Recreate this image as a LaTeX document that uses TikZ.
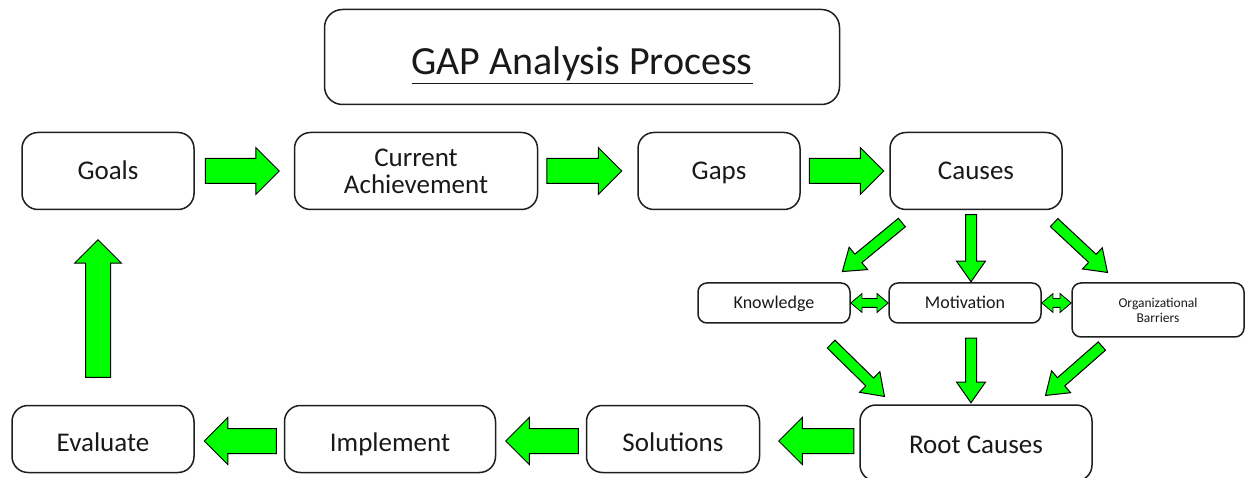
\documentclass[tikz,border=0pt]{standalone}
\usepackage{fontspec}
\setmainfont{Carlito}
\usetikzlibrary{calc,positioning,shapes.arrows}
\definecolor{arrowgreen}{RGB}{0,255,0}
\definecolor{boxline}{RGB}{30,30,30}

\tikzset{
  stepbox/.style={draw=boxline, line width=1.5pt, rounded corners=16pt, align=center,
    inner sep=0pt, text=black!90, font=\fontsize{27}{27}\selectfont},
  oneline/.style={text height=#1, text depth=0pt},
  smallbox/.style={stepbox, rounded corners=9pt, font=\fontsize{18}{20}\selectfont},
  bigarrow/.style={single arrow, draw=black, line width=1pt, fill=arrowgreen, inner xsep=0pt,
    inner ysep=12pt, single arrow head extend=11pt, single arrow tip angle=90},
  smallarrow/.style={bigarrow, inner ysep=5pt, single arrow head extend=9pt,
    single arrow tip angle=70},
  twoarrow/.style={double arrow, draw=black, line width=0.8pt, fill=arrowgreen, inner xsep=0pt,
    inner ysep=4pt, double arrow head extend=5pt, double arrow tip angle=80}
}

% block arrow from one point (tail) to another (tip)
\newcommand{\flowarrow}[3][bigarrow]{%
  \path let \p1=#2, \p2=#3, \n1={atan2(\y2-\y1,\x2-\x1)}, \n2={veclen(\x2-\x1,\y2-\y1)} in
    node[#1, minimum height=\n2, rotate=\n1, anchor=tail] at (\p1) {};}
% two-headed block arrow between two points
\newcommand{\pairarrow}[2]{%
  \path let \p1=#1, \p2=#2, \n1={atan2(\y2-\y1,\x2-\x1)}, \n2={veclen(\x2-\x1,\y2-\y1)} in
    node[twoarrow, minimum height=\n2, rotate=\n1] at ($(\p1)!0.5!(\p2)$) {};}

\begin{document}
\begin{tikzpicture}[x=1pt,y=-1pt]
  \useasboundingbox (0,0) rectangle (1248,478);

  % Drawing title
  \node[stepbox, rounded corners=18pt, minimum width=515pt, minimum height=95pt,
    font=\fontsize{40}{44}\selectfont, oneline=36pt] (title) at (582,57)
    {\underline{GAP Analysis Process}};

  % Drawing top row
  \node[stepbox, oneline=17pt, minimum width=172pt, minimum height=77pt] (goals) at (108,171) {Goals};
  \node[stepbox, minimum width=243pt, minimum height=77pt] (current) at (416,171) {Current\\Achievement};
  \node[stepbox, oneline=17pt, minimum width=162pt, minimum height=77pt] (gaps) at (719,171) {Gaps};
  \node[stepbox, oneline=17pt, minimum width=172pt, minimum height=77pt] (causes) at (976,171) {Causes};

  % Drawing middle row
  \node[smallbox, oneline=12pt, minimum width=152pt, minimum height=40pt] (knowledge) at (774,303) {Knowledge};
  \node[smallbox, oneline=12pt, minimum width=152pt, minimum height=40pt] (motivation) at (965,303) {Motivation};
  \node[smallbox, minimum width=172pt, minimum height=54pt,
    font=\fontsize{13.5}{15}\selectfont] (barriers) at (1158,310) {Organizational\\Barriers};

  % Drawing bottom row
  \node[stepbox, oneline=21pt, minimum width=232pt, minimum height=76pt] (root) at (976,443) {Root Causes};
  \node[stepbox, oneline=25pt, minimum width=173pt, minimum height=67pt] (solutions) at (673,439) {Solutions};
  \node[stepbox, oneline=25pt, minimum width=211pt, minimum height=67pt] (implement) at (390,439) {Implement};
  \node[stepbox, oneline=25pt, minimum width=182pt, minimum height=67pt] (evaluate) at (103,439) {Evaluate};

  % Arrows along the top
  \flowarrow{($(goals.east)+(10,0)$)}{($(current.west)+(-15,0)$)}
  \flowarrow{($(current.east)+(8,0)$)}{($(gaps.west)+(-16,0)$)}
  \flowarrow{($(gaps.east)+(8,0)$)}{($(causes.west)+(-6,0)$)}

  % Arrows out of causes
  \flowarrow[smallarrow]{($(causes.south west)+(13,12)$)}{($(knowledge.north east)+(-8,-11)$)}
  \flowarrow[smallarrow]{($(causes.south)+(-5,4)$)}{($(motivation.north)+(6,-1)$)}
  \flowarrow[smallarrow]{($(causes.south east)+(-9,12)$)}{($(barriers.north west)+(36,-10)$)}

  % Arrows between the factors
  \pairarrow{(knowledge.east)}{(motivation.west)}
  \pairarrow{(motivation.east)}{(barriers.west |- motivation.east)}

  % Arrows into root causes
  \flowarrow[smallarrow]{($(knowledge.south east)+(-20,20)$)}{($(root.north west)+(25,-8)$)}
  \flowarrow[smallarrow]{($(motivation.south)+(6,14)$)}{($(root.north)+(-5,-2)$)}
  \flowarrow[smallarrow]{($(barriers.south west)+(31,8)$)}{($(root.north east)+(-47,-9)$)}

  % Arrows along the bottom
  \flowarrow{($(root.west)+(-5,-2)$)}{($(solutions.east)+(19,2)$)}
  \flowarrow{($(solutions.west)+(-7,2)$)}{($(implement.east)+(10,2)$)}
  \flowarrow{($(implement.west)+(-7,2)$)}{($(evaluate.east)+(10,2)$)}

  % Arrow back to goals
  \flowarrow{($(evaluate.north)+(-5,-27)$)}{($(goals.south)+(-10,30)$)}
\end{tikzpicture}
\end{document}
